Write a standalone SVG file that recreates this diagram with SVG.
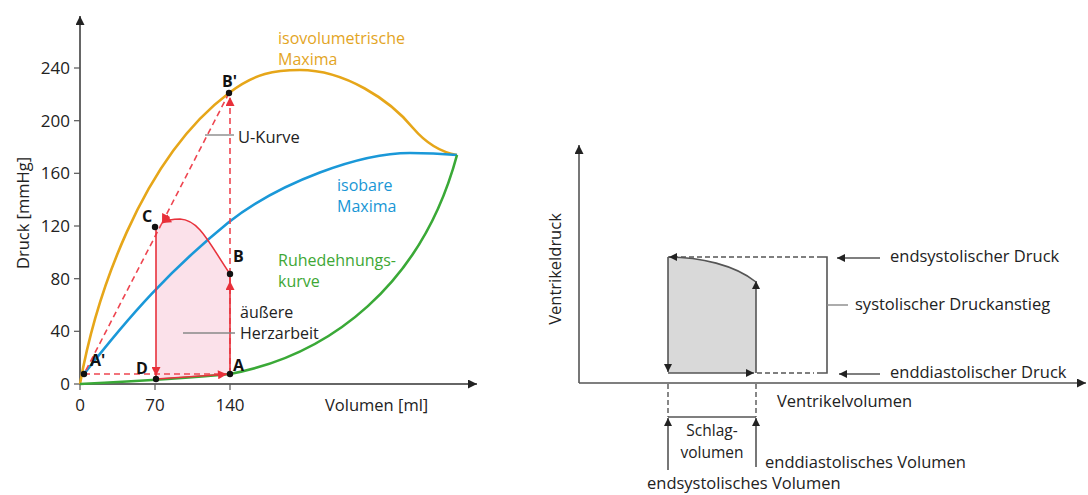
<svg xmlns="http://www.w3.org/2000/svg" width="1088" height="495" viewBox="0 0 1088 495">
<style>
text{font-family:"Open Sans","Noto Sans","DejaVu Sans",sans-serif;font-size:16.5px;fill:#222}
.num{font-size:17px}
.two{font-size:16px}
.lbl{font-weight:bold;font-size:16px;fill:#111}
.or{fill:#e3a51f}.bl{fill:#1896d5}.gr{fill:#3ea735}
.ax{stroke:#333;stroke-width:1.5;fill:none}
.tk{stroke:#555;stroke-width:1.2}
.cur{fill:none;stroke-width:2.6}
.red{stroke:#e8323c;stroke-width:1.6;fill:none}
.dash{stroke:#ee4550;stroke-width:1.6;fill:none;stroke-dasharray:6 4}
.gx{stroke:#555;stroke-width:1.6;fill:none}
.gd{stroke:#555;stroke-width:1.4;fill:none;stroke-dasharray:5 3}
.lead{stroke:#888;stroke-width:1.4}
.dot{fill:#111}
.sv{font-size:15.5px}
</style>
<defs>
<marker id="ar" viewBox="0 0 10 10" refX="10" refY="5" markerWidth="11" markerHeight="9" markerUnits="userSpaceOnUse" orient="auto"><path d="M0,0 L10,5 L0,10 Z" fill="#e8303a"/></marker>
<marker id="ak" viewBox="0 0 10 10" refX="10" refY="5" markerWidth="10" markerHeight="8" markerUnits="userSpaceOnUse" orient="auto"><path d="M0,0 L10,5 L0,10 Z" fill="#222"/></marker>
<marker id="axk" viewBox="0 0 10 10" refX="10" refY="5" markerWidth="12" markerHeight="9" markerUnits="userSpaceOnUse" orient="auto"><path d="M0,0 L10,5 L0,10 Z" fill="#222"/></marker>
</defs>

<g id="left-chart">
  <g id="left-fill">
    <path d="M156,379 L230,374 L230,274 C210,245 200,220 180,219 C172,219 166,220 162,223 L156,227 Z" fill="#fbe1ea"/>
    <path d="M80,384 C120,382 190,378 230,374 L156,379 Z" fill="#fdf0e6"/>
  </g>
  <g id="left-axes">
    <line class="ax" x1="80" y1="384" x2="80" y2="16" marker-end="url(#axk)"/>
    <line class="ax" x1="80" y1="384" x2="477" y2="384" marker-end="url(#axk)"/>
    <line class="tk" x1="74" y1="68" x2="80" y2="68"/>
    <line class="tk" x1="74" y1="120.7" x2="80" y2="120.7"/>
    <line class="tk" x1="74" y1="173.3" x2="80" y2="173.3"/>
    <line class="tk" x1="74" y1="226" x2="80" y2="226"/>
    <line class="tk" x1="74" y1="278.7" x2="80" y2="278.7"/>
    <line class="tk" x1="74" y1="331.3" x2="80" y2="331.3"/>
    <line class="tk" x1="74" y1="384" x2="80" y2="384"/>
    <line class="tk" x1="80" y1="384" x2="80" y2="390"/>
    <line class="tk" x1="155" y1="384" x2="155" y2="390"/>
    <line class="tk" x1="230" y1="384" x2="230" y2="390"/>
    <g text-anchor="end">
      <text class="num" x="70" y="74">240</text>
      <text class="num" x="70" y="127">200</text>
      <text class="num" x="70" y="179">160</text>
      <text class="num" x="70" y="232">120</text>
      <text class="num" x="70" y="285">80</text>
      <text class="num" x="70" y="337">40</text>
      <text class="num" x="70" y="390">0</text>
    </g>
    <g text-anchor="middle">
      <text class="num" x="80" y="411">0</text>
      <text class="num" x="155" y="411">70</text>
      <text class="num" x="230" y="411">140</text>
    </g>
    <text x="325" y="411">Volumen [ml]</text>
    <text transform="translate(29,213) rotate(-90)" text-anchor="middle">Druck [mmHg]</text>
  </g>
  <g id="curves">
    <path class="cur" stroke="#e6a619" d="M80,384 C95,300 140,160 229,93 C255,73 275,70 300,70 C345,70 390,100 413,128 C425,142 440,152 457,155"/>
    <path class="cur" stroke="#1a98d8" d="M84,374 C130,315 170,270 229,222 C280,182 360,153 410,153 C430,153 445,154 457,155"/>
    <path class="cur" stroke="#3aa937" d="M80,384 C120,382 190,378 230,374 C330,355 422,285 457,155"/>
  </g>
  <g id="connectors">
    <line class="dash" x1="84" y1="374" x2="226" y2="374"/>
    <line class="dash" x1="230" y1="374" x2="230" y2="97" marker-end="url(#ar)"/>
    <line class="dash" x1="229" y1="93" x2="162" y2="223" marker-end="url(#ar)"/>
    <line class="dash" x1="162" y1="223" x2="84" y2="374"/>
    <line class="red" x1="156" y1="379" x2="227" y2="374.2" marker-end="url(#ar)"/>
    <line class="red" x1="230" y1="374" x2="230" y2="281" marker-end="url(#ar)"/>
    <line class="red" x1="230" y1="281" x2="230" y2="274"/>
    <path class="red" d="M230,274 C210,245 200,220 180,219 C172,219 167,220 162,223" marker-end="url(#ar)"/>
    <line class="red" x1="156" y1="227" x2="156" y2="376" marker-end="url(#ar)"/>
    <line class="lead" x1="205" y1="135" x2="234" y2="135"/>
    <line class="lead" x1="183" y1="333" x2="235" y2="333"/>
  </g>
  <g id="points">
    <circle class="dot" cx="84" cy="374" r="3.2"/>
    <circle class="dot" cx="156" cy="379" r="3.2"/>
    <circle class="dot" cx="230" cy="374" r="3.2"/>
    <circle class="dot" cx="230" cy="274" r="3.2"/>
    <circle class="dot" cx="155" cy="227" r="3.2"/>
    <circle class="dot" cx="229" cy="93" r="3.2"/>
    <text class="lbl" x="90" y="366">A'</text>
    <text class="lbl" x="136" y="374">D</text>
    <text class="lbl" x="233" y="371">A</text>
    <text class="lbl" x="233" y="262">B</text>
    <text class="lbl" x="142" y="222">C</text>
    <text class="lbl" x="222" y="87">B'</text>
  </g>
  <g id="labels">
    <text x="238" y="143">U-Kurve</text>
    <text class="two" x="240" y="318">äußere</text>
    <text class="two" x="240" y="339">Herzarbeit</text>
    <text class="or two" x="278" y="44">isovolumetrische</text>
    <text class="or two" x="278" y="65">Maxima</text>
    <text class="bl two" x="337" y="191">isobare</text>
    <text class="bl two" x="337" y="212">Maxima</text>
    <text class="gr two" x="278" y="266">Ruhedehnungs-</text>
    <text class="gr two" x="278" y="287">kurve</text>
  </g>
</g>

<g id="right-chart">
  <g id="loop">
    <path d="M668,257 C700,257 735,265 756,282 L756,373 L668,373 Z" fill="#d9d9d9"/>
    <path class="gx" d="M668,257 C700,257 735,265 756,282"/>
  </g>
  <g id="right-axes">
    <line class="gx" x1="579" y1="383" x2="579" y2="145" marker-end="url(#axk)"/>
    <line class="gx" x1="579" y1="383" x2="1086" y2="383" marker-end="url(#axk)"/>
    <text transform="translate(561,269) rotate(-90)" text-anchor="middle">Ventrikeldruck</text>
    <text x="777" y="407">Ventrikelvolumen</text>
  </g>
  <g id="right-connectors">
    <line class="gx" x1="668" y1="257" x2="668" y2="372" marker-end="url(#ak)"/>
    <line class="gx" x1="668" y1="373" x2="754" y2="373" marker-end="url(#ak)"/>
    <line class="gx" x1="756" y1="373" x2="756" y2="281" marker-end="url(#ak)"/>
    <line class="gd" x1="814" y1="257" x2="669" y2="257" marker-end="url(#ak)"/>
    <line class="gd" x1="757" y1="373" x2="814" y2="373"/>
    <path class="gx" d="M817,257 H827 V373 H817"/>
    <line class="lead" x1="827" y1="305" x2="848" y2="305"/>
    <line class="gx" x1="880" y1="258" x2="837" y2="258" marker-end="url(#ak)"/>
    <line class="gx" x1="880" y1="374" x2="839" y2="374" marker-end="url(#ak)"/>
    <line class="gd" x1="668" y1="384" x2="668" y2="417"/>
    <line class="gd" x1="756" y1="384" x2="756" y2="417"/>
    <line class="gx" x1="668" y1="417" x2="756" y2="417"/>
    <line class="gx" x1="668" y1="470" x2="668" y2="418" marker-end="url(#ak)"/>
    <line class="gx" x1="756" y1="467" x2="756" y2="418" marker-end="url(#ak)"/>
  </g>
  <g id="right-labels">
    <text x="890" y="262">endsystolischer Druck</text>
    <text x="855" y="310">systolischer Druckanstieg</text>
    <text x="890" y="378">enddiastolischer Druck</text>
    <text class="sv" x="712" y="436" text-anchor="middle">Schlag-</text>
    <text class="sv" x="712" y="458" text-anchor="middle">volumen</text>
    <text x="765" y="468">enddiastolisches Volumen</text>
    <text x="647" y="489">endsystolisches Volumen</text>
  </g>
</g>
</svg>
